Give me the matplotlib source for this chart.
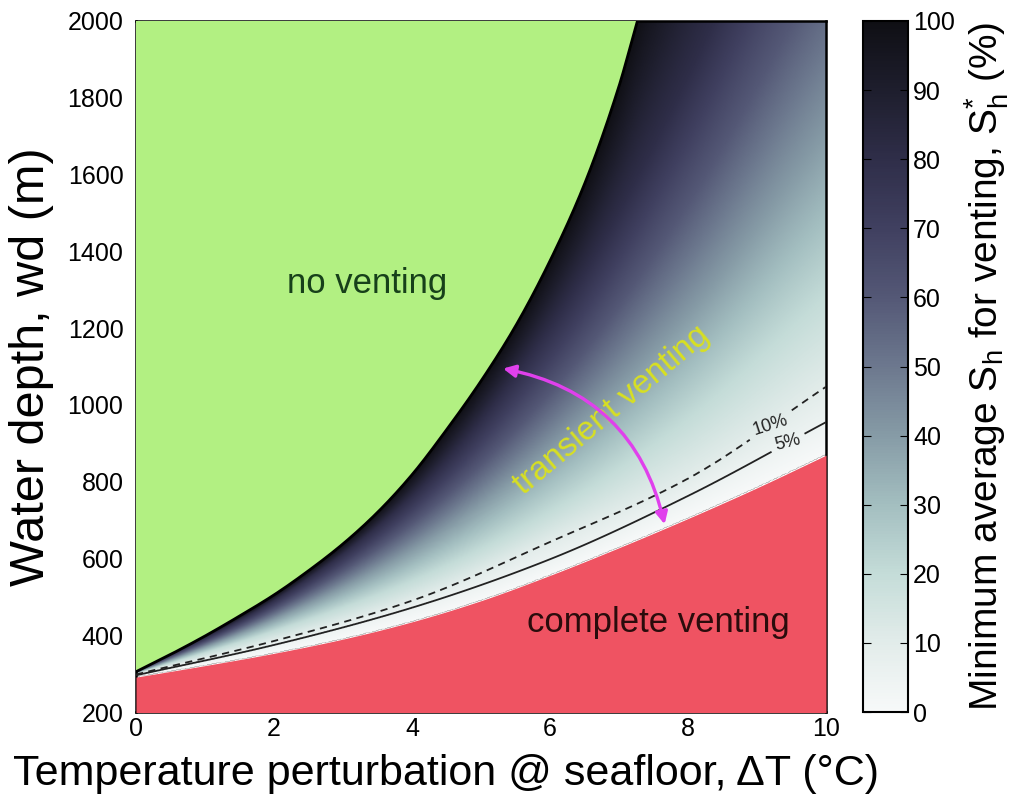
import numpy as np
import matplotlib
matplotlib.use("Agg")
import matplotlib.pyplot as plt
from matplotlib.colors import LinearSegmentedColormap
from matplotlib.patches import FancyArrowPatch

plt.rcParams['font.family'] = ['Liberation Sans', 'DejaVu Sans']
plt.rcParams['mathtext.fontset'] = 'custom'
plt.rcParams['mathtext.rm'] = 'Liberation Sans'
plt.rcParams['mathtext.it'] = 'Liberation Sans'
plt.rcParams['mathtext.default'] = 'regular'

# ---------------- data ----------------
# complete-venting boundary (S = 0 %)
red_x = [0, 1, 2, 3, 4, 5, 6, 7, 8, 9, 10]
red_wd = [291, 321, 353, 390, 435, 490, 556, 628, 704, 784, 869]

# no-venting boundary (S = 100 %), beyond 7.3 lies above the plot
green_x = [0, 0.5, 1, 1.5, 2, 2.5, 3, 3.5, 4, 4.5, 5, 5.5, 6, 6.5, 7, 7.3, 8, 10]
green_wd = [305, 350, 398, 450, 505, 568, 638, 720, 818, 935, 1062, 1205,
            1375, 1575, 1830, 2020, 2400, 3700]

# water depth of intermediate S levels at these temperatures
lev_x = [0, 2, 4, 6, 8, 10]
wd_5 = [296, 375, 472, 598, 763, 955]
wd_10 = [298, 385, 490, 643, 808, 1047]
wd_20 = [300, 410, 540, 720, 960, 1280]
wd_40 = [301, 440, 620, 880, 1230, 1700]
wd_60 = [302, 465, 690, 1030, 1520, 2150]
wd_80 = [303, 490, 760, 1200, 1850, 2700]

levels = [0, 5, 10, 20, 40, 60, 80, 100]

xticks = [0, 2, 4, 6, 8, 10]
yticks = [200, 400, 600, 800, 1000, 1200, 1400, 1600, 1800, 2000]
cticks = [0, 10, 20, 30, 40, 50, 60, 70, 80, 90, 100]


def pchip(xk, yk, xq):
    """Monotone piecewise-cubic interpolation through the read points."""
    xk = np.asarray(xk, float)
    yk = np.asarray(yk, float)
    xq = np.atleast_1d(np.asarray(xq, float))
    h = np.diff(xk)
    dlt = np.diff(yk) / h
    n = xk.size
    m = np.zeros(n)
    for i in range(1, n - 1):
        if dlt[i - 1] * dlt[i] > 0:
            w1 = 2 * h[i] + h[i - 1]
            w2 = h[i] + 2 * h[i - 1]
            m[i] = (w1 + w2) / (w1 / dlt[i - 1] + w2 / dlt[i])
    m[0] = dlt[0]
    m[-1] = dlt[-1]
    idx = np.clip(np.searchsorted(xk, xq) - 1, 0, n - 2)
    t = (xq - xk[idx]) / h[idx]
    h00 = 2 * t**3 - 3 * t**2 + 1
    h10 = t**3 - 2 * t**2 + t
    h01 = -2 * t**3 + 3 * t**2
    h11 = t**3 - t**2
    return (h00 * yk[idx] + h10 * h[idx] * m[idx] + h01 * yk[idx + 1]
            + h11 * h[idx] * m[idx + 1])


# ---------------- field ----------------
gx = np.linspace(0, 10, 601)
gy = np.linspace(200, 2000, 901)
S = np.full((gy.size, gx.size), np.nan)
mid_tabs = [wd_5, wd_10, wd_20, wd_40, wd_60, wd_80]
D = [pchip(red_x, red_wd, gx)]
D += [pchip(lev_x, t, gx) for t in mid_tabs]
D += [pchip(green_x, green_wd, gx)]
D = np.array(D)
for j in range(gx.size):
    d = D[:, j].copy()
    for k in range(1, d.size):
        if d[k] <= d[k - 1]:
            d[k] = d[k - 1] + 0.5
    col = np.interp(gy, d, levels)
    col[(gy < d[0]) | (gy > d[-1])] = np.nan
    S[:, j] = col

cmap = LinearSegmentedColormap.from_list("sh", [
    (0.00, (247/255, 249/255, 249/255)),
    (0.10, (226/255, 236/255, 234/255)),
    (0.20, (196/255, 220/255, 216/255)),
    (0.30, (163/255, 190/255, 192/255)),
    (0.40, (134/255, 155/255, 166/255)),
    (0.50, (108/255, 120/255, 142/255)),
    (0.60, (84/255, 88/255, 118/255)),
    (0.70, (64/255, 64/255, 96/255)),
    (0.80, (47/255, 46/255, 73/255)),
    (0.90, (30/255, 30/255, 45/255)),
    (1.00, (15/255, 15/255, 20/255)),
])

fig = plt.figure(figsize=(10.21, 7.97), dpi=100)
ax = fig.add_axes([0.1332, 0.1066, 0.6758, 0.8671])
cax = fig.add_axes([0.8453, 0.1066, 0.0441, 0.8671])

im = ax.imshow(np.ma.masked_invalid(S), origin='lower', extent=[0, 10, 200, 2000],
               aspect='auto', cmap=cmap, vmin=0, vmax=100, interpolation='bilinear')

green_c = '#b2f082'
red_c = '#ef5362'
gxd = np.linspace(0, 10, 1001)
g_line = pchip(green_x, green_wd, gxd)
r_line = pchip(red_x, red_wd, gxd)
ax.fill_between(gxd, g_line, 2100, color=green_c, lw=0, zorder=3)
ax.plot(gxd, g_line, color='black', lw=2, zorder=3)
ax.fill_between(gxd, 150, r_line, color=red_c, lw=0, zorder=3)

cs = ax.contour(gx, gy, np.ma.masked_invalid(S), levels=[5, 10], colors='#222222',
                linewidths=1.3, linestyles=['solid', (0, (4, 3))], zorder=4)
lab5 = (9.45, float(pchip(lev_x, wd_5, 9.45)[0]))
lab10 = (9.2, float(pchip(lev_x, wd_10, 9.2)[0]))
ax.clabel(cs, fmt={5: '5%', 10: '10%'}, fontsize=13, inline=True, inline_spacing=4,
          manual=[lab5, lab10])

ax.text(3.35, 1317, 'no venting', fontsize=25, color='#17401a', ha='center', va='center', zorder=5)
ax.text(7.57, 434, 'complete venting', fontsize=25, color='#2a0c0c', ha='center', va='center', zorder=5)
ax.text(6.9, 985, 'transient venting', fontsize=24, color='#d8e021', ha='center', va='center',
        rotation=40, zorder=5)

arrow = FancyArrowPatch((5.28, 1096), (7.67, 682), arrowstyle='<|-|>', mutation_scale=18,
                        connectionstyle='arc3,rad=-0.33', color='#e040ec', lw=2.4, zorder=6)
ax.add_patch(arrow)

ax.set_xlim(0, 10)
ax.set_ylim(200, 2000)
ax.set_xticks(xticks)
ax.set_yticks(yticks)
ax.tick_params(direction='in', length=4, labelsize=18, colors='black')
ax.tick_params(axis='y', pad=9)
for s in ax.spines.values():
    s.set_linewidth(1.8)
ax.set_xlabel('Temperature perturbation @ seafloor, ΔT (°C)', fontsize=31)
ax.xaxis.set_label_coords(0.45, -0.06, transform=ax.transAxes)
ax.xaxis.label.set_va('top')
ax.set_ylabel('Water depth, wd (m)', fontsize=35, labelpad=10)

cb = fig.colorbar(im, cax=cax, ticks=cticks)
cb.outline.set_linewidth(1.5)
cax.tick_params(direction='in', left=True, right=True, length=6, labelsize=18)
cb.set_label(r'Minimum average S$_h$ for venting, S$^{*}_h$ (%)', fontsize=28, labelpad=6)

fig.savefig('out.png', dpi=100)
